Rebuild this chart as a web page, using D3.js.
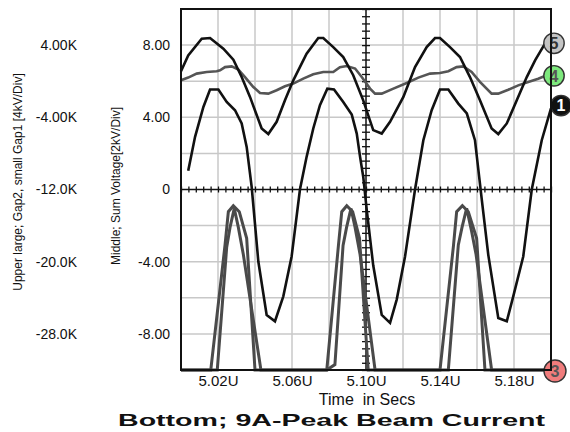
<!DOCTYPE html>
<html>
<head>
<meta charset="utf-8">
<script src="https://cdn.jsdelivr.net/npm/d3@7/dist/d3.min.js"></script>
<style>
  body { margin: 0; background: #fff; }
  text { font-family: "Liberation Sans", Arial, sans-serif; fill: #111; }
</style>
</head>
<body>
<svg id="chart" width="570" height="432"></svg>
<script>
// --- data (time in µs) ---
// trace 5: upper sum voltage (black)
const t5 = [5.0000,5.0039,5.0112,5.0157,5.0229,5.0283,5.0328,5.0373,5.0436,5.0472,5.0517,5.0562,5.0607,5.0679,5.0742,5.0769,5.0823,5.0877,5.0931,5.0985,5.1039,5.1085,5.1130,5.1202,5.1265,5.1328,5.1373,5.1400,5.1454,5.1508,5.1562,5.1616,5.1679,5.1715,5.1761,5.1815,5.1869,5.1914,5.1968];
const v5 = [6.55,7.43,8.35,8.39,7.80,7.19,6.23,5.13,3.38,3.07,3.75,4.94,6.05,7.52,8.39,8.39,7.89,7.34,6.33,4.94,3.29,3.10,3.75,5.13,6.78,7.89,8.39,8.39,7.89,7.34,6.23,4.94,3.38,3.07,3.66,4.94,6.23,7.15,8.10];

// trace 4: middle (gray)
const t4 = [5.0000,5.0039,5.0085,5.0139,5.0193,5.0211,5.0238,5.0274,5.0310,5.0346,5.0391,5.0427,5.0472,5.0517,5.0562,5.0607,5.0661,5.0715,5.0769,5.0823,5.0859,5.0896,5.0941,5.0977,5.1022,5.1049,5.1085,5.1148,5.1220,5.1283,5.1346,5.1400,5.1445,5.1490,5.1526,5.1571,5.1616,5.1679,5.1715,5.1769,5.1823,5.1877,5.1931,5.1977];
const v4 = [6.05,6.20,6.42,6.51,6.55,6.60,6.78,6.82,6.64,6.23,5.68,5.35,5.31,5.50,5.72,5.87,6.14,6.38,6.51,6.51,6.78,6.84,6.70,6.23,5.59,5.31,5.31,5.59,5.90,6.20,6.42,6.45,6.55,6.78,6.82,6.51,5.96,5.31,5.31,5.53,5.77,5.96,6.14,6.33];

// trace 1: large swing (black)
const t1 = [5.0039,5.0076,5.0121,5.0157,5.0202,5.0247,5.0292,5.0328,5.0355,5.0382,5.0418,5.0463,5.0508,5.0553,5.0598,5.0643,5.0679,5.0715,5.0751,5.0791,5.0827,5.0877,5.0923,5.0950,5.0968,5.0985,5.1004,5.1039,5.1085,5.1130,5.1166,5.1211,5.1265,5.1310,5.1355,5.1400,5.1445,5.1499,5.1545,5.1589,5.1626,5.1661,5.1715,5.1761,5.1796,5.1850,5.1896,5.1950,5.2000];
const v1 = [1.04,2.92,4.57,5.54,5.54,4.85,4.39,3.66,2.36,0.15,-3.99,-6.95,-7.30,-5.92,-3.71,0.00,1.81,3.38,4.67,5.59,5.54,4.85,4.15,3.10,1.81,0.71,-1.13,-4.20,-6.95,-7.39,-6.10,-3.71,0.00,2.73,4.39,5.54,5.54,4.76,4.21,2.73,-0.58,-3.62,-7.12,-7.30,-5.92,-3.71,0.00,2.73,4.50];

// trace 3: beam current pulses, two channels (gray)
const t3a = [5.0000,5.0161,5.0238,5.0256,5.0283,5.0315,5.0355,5.0400,5.0788,5.0851,5.0869,5.0896,5.0928,5.0965,5.1012,5.1400,5.1473,5.1490,5.1521,5.1553,5.1598,5.1643,5.2000];
const v3a = [-10,-10,-3.07,-1.23,-0.90,-1.23,-2.70,-10,-10,-3.10,-1.23,-0.90,-1.23,-2.70,-10,-10,-3.10,-1.23,-0.90,-1.23,-2.70,-10,-10];
const t3b = [5.0000,5.0196,5.0247,5.0265,5.0288,5.0310,5.0337,5.0432,5.0788,5.0832,5.0876,5.0895,5.0919,5.0941,5.0968,5.1049,5.1445,5.1499,5.1519,5.1544,5.1571,5.1595,5.1679,5.2000];
const v3b = [-10,-10,-3.20,-2.10,-1.05,-2.10,-3.60,-10,-10,-9.70,-3.10,-2.10,-1.05,-2.10,-3.60,-10,-10,-3.07,-2.10,-1.04,-2.33,-3.60,-10,-10];

// ticks
const xTicks = [5.02, 5.06, 5.10, 5.14, 5.18];
const yTicks = [8, 4, 0, -4, -8];
const yOuterTicks = [4000, -4000, -12000, -20000, -28000];

// channel markers at the right edge
const markerIds = ["5", "4", "1", "3"];
const markerVals = [8.1, 6.3, 4.65, -10];

// --- layout ---
const svg = d3.select("#chart");
const L = 181, R = 551, T = 9, B = 370;

const x = d3.scaleLinear().domain([5.00, 5.20]).range([L, R]);
const y = d3.scaleLinear().domain([-10, 10]).range([B, T]);
const yOuter = d3.scaleLinear().domain([-32000, 8000]).range([B, T]);

svg.append("rect").attr("width", 570).attr("height", 432).attr("fill", "#fff");

// grid
const gridX = d3.range(1, 10).map(i => 5.00 + i * 0.02).filter(d => Math.abs(d - 5.10) > 1e-6);
const gridY = d3.range(-8, 10, 2).filter(d => d !== 0);
svg.append("g").selectAll("line").data(gridX).enter().append("line")
  .attr("x1", d => x(d)).attr("x2", d => x(d)).attr("y1", T).attr("y2", B)
  .attr("stroke", "#c8c8c8").attr("stroke-width", 1.5);
svg.append("g").selectAll("line").data(gridY).enter().append("line")
  .attr("y1", d => y(d)).attr("y2", d => y(d)).attr("x1", L).attr("x2", R)
  .attr("stroke", "#c8c8c8").attr("stroke-width", 1.5);

// center cross with minor ticks
const cx = x(5.10), cy = y(0);
svg.append("g")
  .attr("transform", `translate(0,${cy + 3})`)
  .call(d3.axisTop(x).tickValues(d3.range(0, 51).map(i => 5.00 + i * 0.004)).tickSize(6).tickFormat(""))
  .call(g => g.select(".domain").remove())
  .selectAll("line").attr("stroke", "#111").attr("stroke-width", 1.3);
svg.append("g")
  .attr("transform", `translate(${cx - 4},0)`)
  .call(d3.axisRight(y).tickValues(d3.range(0, 51).map(i => -10 + i * 0.4)).tickSize(8).tickFormat(""))
  .call(g => g.select(".domain").remove())
  .selectAll("line").attr("stroke", "#111").attr("stroke-width", 1.3);
svg.append("line").attr("x1", L).attr("x2", R).attr("y1", cy).attr("y2", cy)
  .attr("stroke", "#111").attr("stroke-width", 1.5);
svg.append("line").attr("x1", cx).attr("x2", cx).attr("y1", T).attr("y2", B)
  .attr("stroke", "#111").attr("stroke-width", 1.5);

// traces
const line = d3.line().x(d => x(d[0])).y(d => y(d[1]));
const traces = [
  { t: t3a, v: v3a, color: "#4a4a4a", w: 3 },
  { t: t3b, v: v3b, color: "#4a4a4a", w: 3 },
  { t: t4, v: v4, color: "#555", w: 2.6 },
  { t: t5, v: v5, color: "#111", w: 2.6 },
  { t: t1, v: v1, color: "#111", w: 2.6 }
];
traces.forEach(tr => {
  svg.append("path")
    .datum(d3.zip(tr.t, tr.v))
    .attr("d", line)
    .attr("fill", "none")
    .attr("stroke", tr.color)
    .attr("stroke-width", tr.w)
    .attr("stroke-linejoin", "miter");
});

// markers (under the frame)
const mFill = { "5": "#c4c4c4", "4": "#7de87d", "1": "#111", "3": "#f07c7c" };
const mText = { "5": "#333", "4": "#555", "1": "#fff", "3": "#555" };
const mDx = { "5": 3, "4": 3, "1": 10, "3": 4 };
const mg = svg.append("g").selectAll("g").data(markerIds).enter().append("g")
  .attr("transform", (d, i) => `translate(${x(5.20) + mDx[d]},${y(markerVals[i]) + (d === "3" ? 1 : 0)})`);
mg.append("circle").attr("r", d => d === "3" ? 11 : 10.2)
  .attr("fill", d => mFill[d]).attr("stroke", "#333").attr("stroke-width", 1.4);
mg.append("text").attr("text-anchor", "middle").attr("dy", "0.36em")
  .style("font-size", "16px").style("font-weight", "bold")
  .style("fill", d => mText[d]).text(d => d);

// frame
svg.append("rect").attr("x", L).attr("y", T).attr("width", R - L).attr("height", B - T)
  .attr("fill", "none").attr("stroke", "#111").attr("stroke-width", 2);

// axes labels
const inner = svg.append("g").attr("transform", "translate(170,0)")
  .call(d3.axisLeft(y).tickValues(yTicks).tickSize(0).tickPadding(0)
    .tickFormat(d => d === 0 ? "0" : d.toFixed(2)));
inner.select(".domain").remove();
inner.selectAll("text").style("font-size", "14px").style("fill", "#111").style("font-family", "Liberation Sans, Arial, sans-serif");

const outer = svg.append("g").attr("transform", "translate(77,0)")
  .call(d3.axisLeft(yOuter).tickValues(yOuterTicks).tickSize(0).tickPadding(0)
    .tickFormat(d => (d / 1000).toPrecision(3) + "K"));
outer.select(".domain").remove();
outer.selectAll("text").style("font-size", "14px").style("fill", "#111").style("font-family", "Liberation Sans, Arial, sans-serif");

const xa = svg.append("g").attr("transform", `translate(0,${B})`)
  .call(d3.axisBottom(x).tickValues(xTicks).tickSize(0).tickPadding(5)
    .tickFormat(d => d.toFixed(2) + "U"));
xa.select(".domain").remove();
xa.selectAll("text").style("font-size", "15px").style("fill", "#111").style("font-family", "Liberation Sans, Arial, sans-serif");

// titles
svg.append("text").attr("transform", "translate(22,182) rotate(-90)")
  .attr("text-anchor", "middle").style("font-size", "12px")
  .text("Upper large; Gap2, small Gap1 [4kV/Div]");
svg.append("text").attr("transform", "translate(120,186) rotate(-90)")
  .attr("text-anchor", "middle").style("font-size", "12px")
  .text("Middle; Sum Voltage[2kV/Div]");
svg.append("text").attr("x", 367).attr("y", 405)
  .attr("text-anchor", "middle").style("font-size", "16px")
  .attr("xml:space", "preserve")
  .text("Time  in Secs");
svg.append("text").attr("x", 118).attr("y", 426)
  .attr("textLength", 427).attr("lengthAdjust", "spacingAndGlyphs")
  .style("font-size", "17px").style("font-weight", "bold")
  .text("Bottom; 9A-Peak Beam Current");
</script>
</body>
</html>
